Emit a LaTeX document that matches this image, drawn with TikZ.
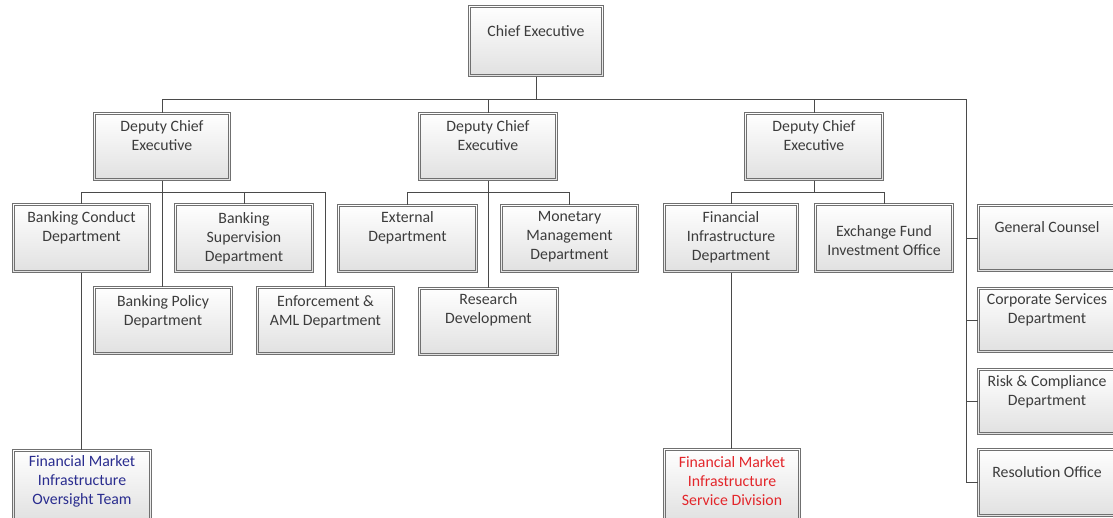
\documentclass[tikz,border=0pt]{standalone}
\usepackage{fontspec}
\setmainfont{Carlito}
\definecolor{txt}{HTML}{3C3C3C}
\definecolor{lncol}{HTML}{4A4A4A}
\definecolor{boxline}{HTML}{707070}
\definecolor{fmiblue}{HTML}{2A2D8F}
\definecolor{fmired}{HTML}{E3262B}
\tikzset{
  box/.style={draw=boxline, line width=0.9pt,
    top color=white, bottom color=black!12, inner sep=0pt, outer sep=0pt},
  inbox/.style={draw=boxline, line width=0.8pt},
  lbl/.style={font=\fontsize{15.8}{19}\selectfont, text=txt, align=center,
    inner sep=0pt, anchor=north},
  conn/.style={draw=lncol, line width=0.8pt},
}
\newcommand\obox[8][]{%
  \node[box, minimum width={(#5-#3-1)*1pt}, minimum height={(#6-#4-1)*1pt}]
    (#2) at ({(#3+#5)/2},{(#4+#6)/2}) {};
  \draw[inbox] ([shift={(2.3pt,-2.3pt)}]#2.north west) rectangle ([shift={(-2.3pt,2.3pt)}]#2.south east);
  \node[lbl,#1] (#2t) at ({(#3+#5)/2},#7) {#8};
}
\begin{document}
\begin{tikzpicture}[x=1pt,y=-1pt]
\useasboundingbox (0,0) rectangle (1113,517);
\fill[white] (0,0) rectangle (1113,517);
\clip (0,0) rectangle (1113,517);

\obox{ce}{468}{5}{604}{77}{25}{Chief Executive}
\obox{dce1}{93}{112}{231}{181}{120}{Deputy Chief\\Executive}
\obox{dce2}{418}{112}{558}{181}{120}{Deputy Chief\\Executive}
\obox{dce3}{744}{112}{884}{181}{120}{Deputy Chief\\Executive}

\obox{bcd}{12}{203}{151}{273}{211}{Banking Conduct\\Department}
\obox{bsd}{174}{203}{314}{273}{212}{Banking\\Supervision\\Department}
\obox{bpd}{93}{286}{233}{355}{295}{Banking Policy\\Department}
\obox{enf}{256}{286}{395}{355}{295}{Enforcement \&\\AML Department}

\obox{ext}{337}{204}{478}{273}{211}{External\\Department}
\obox{mon}{500}{204}{639}{273}{211}{Monetary\\Management\\Department}
\obox{res}{418}{287}{559}{356}{293}{Research\\Development}

\obox{fid}{663}{203}{799}{273}{211}{Financial\\Infrastructure\\Department}
\obox{efi}{814}{203}{954}{273}{225}{Exchange Fund\\Investment Office}

\obox{gc}{977}{204}{1117}{272}{221}{General Counsel}
\obox{csd}{977}{287}{1117}{353}{293}{Corporate Services\\Department}
\obox{rcd}{977}{368}{1117}{435}{375}{Risk \& Compliance\\Department}
\obox{ro}{977}{448}{1117}{517}{466}{Resolution Office}

\obox[text=fmiblue]{fmio}{12}{449}{152}{522}{455}{Financial Market\\Infrastructure\\Oversight Team}
\obox[text=fmired]{fmis}{663}{448}{801}{522}{456}{Financial Market\\Infrastructure\\Service Division}

\coordinate (sv) at (966,99);
\coordinate (sb) at (966,482.5);
\coordinate (b1) at (0,192);

\draw[conn] (dce1.north) |- (sv) -- (sb);
\draw[conn] (ce.south) -- (ce.south |- sv);
\draw[conn] (dce2.north) -- (dce2.north |- sv);
\draw[conn] (dce3.north) -- (dce3.north |- sv);
\draw[conn] (gc.west) -- (gc.west -| sv);
\draw[conn] (csd.west) -- (csd.west -| sv);
\draw[conn] (rcd.west) -- (rcd.west -| sv);
\draw[conn] (ro.west) -- (ro.west -| sv);

\draw[conn] (bcd.north) |- (enf.north |- b1) -- (enf.north);
\draw[conn] (dce1.south) -- (dce1.south |- bpd.north);
\draw[conn] (bsd.north) -- (bsd.north |- b1);
\draw[conn] (bcd.south) -- (bcd.south |- fmio.north);

\draw[conn] (ext.north) |- (mon.north |- b1) -- (mon.north);
\draw[conn] (dce2.south) -- (dce2.south |- res.north);

\draw[conn] (fid.north) |- (efi.north |- b1) -- (efi.north);
\draw[conn] (dce3.south) -- (dce3.south |- b1);
\draw[conn] (fid.south) -- (fid.south |- fmis.north);
\end{tikzpicture}
\end{document}
